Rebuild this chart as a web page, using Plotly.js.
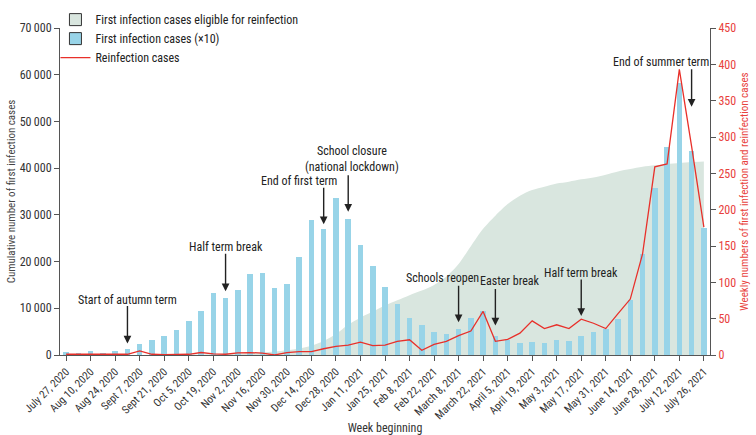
<!DOCTYPE html>
<html>
<head>
<meta charset="utf-8">
<script src="https://cdn.plot.ly/plotly-3.0.1.min.js"></script>
<style>html,body{margin:0;padding:0;background:#fff;}#chart{width:756px;height:435px;}</style>
</head>
<body>
<div id="chart"></div>
<script>
// Week index 0 = July 27, 2020 ... 52 = July 26, 2021
const tickLabels = ["July 27, 2020","Aug 10, 2020","Aug 24, 2020","Sept 7, 2020","Sept 21, 2020","Oct 5, 2020","Oct 19, 2020","Nov 2, 2020","Nov 16, 2020","Nov 30, 2020","Dec 14, 2020","Dec 28, 2020","Jan 11, 2021","Jan 25, 2021","Feb 8, 2021","Feb 22, 2021","March 8, 2021","March 22, 2021","April 5, 2021","April 19, 2021","May 3, 2021","May 17, 2021","May 31, 2021","June 14, 2021","June 28, 2021","July 12, 2021","July 26, 2021"];

// Cumulative first infection cases eligible for reinfection (left axis)
const eligible = [0,0,0,0,0,0,0,0,0,0,50,100,150,200,300,400,550,750,1000,1400,2000,3000,4500,6500,8000,9300,10600,11700,12800,13800,15000,16800,19500,23300,27000,29800,32300,34100,35300,36000,36700,37100,37600,38000,38600,39300,39800,40300,40600,40900,41100,41300,41400];

// First infection cases (x10), in left-axis units
const firstInf = [540,500,870,500,870,1330,2330,3270,4070,5270,7200,9400,13330,12200,14000,17330,17530,14400,15130,21070,28800,27070,33600,29200,23600,19100,14470,11000,7870,6470,4870,4470,5670,8000,9330,4070,3130,2670,2870,2670,3270,3070,4070,5000,5670,7670,11800,21530,35670,44530,58330,43670,27130];

// Weekly reinfection cases (right axis)
const reinf = [1,1,1,0,0,1,5.6,1,0.5,0.5,1,3.4,1.5,1,3,3.4,2.6,0,3.4,4.7,4.7,8.6,12,13.7,17.6,12.9,13.7,18.9,21,6.4,14.6,18.9,26.6,33,60,18.9,21.4,30,47,36.4,41.6,36.4,49.3,43.7,36.4,57,77,139,259,263,393,287,176];

const weekIdx = eligible.map((_, i) => i);
const tickVals = tickLabels.map((_, i) => i * 2);

const green = '#d9e6df', blue = '#98d4e8', red = '#e8302a', axisCol = '#555';
const FONT = 'Liberation Sans Narrow, Roboto Condensed, Arial Narrow, sans-serif';

const traces = [
  {type:'scatter', x: weekIdx, y: eligible, mode:'lines', fill:'tozeroy', fillcolor: green,
   line:{width:0, shape:'spline', smoothing:0.8, color: green}, yaxis:'y', showlegend:false, hoverinfo:'skip'},
  {type:'bar', x: weekIdx, y: firstInf, marker:{color: blue, line:{width:0}}, width:0.45,
   yaxis:'y2', showlegend:false},
  {type:'scatter', x: weekIdx, y: reinf, mode:'lines', line:{color: red, width:1.3},
   yaxis:'y3', name:'Reinfection cases', legendrank:3},
  // legend-only entries
  {type:'bar', x:[null], y:[null], name:'First infection cases eligible for reinfection',
   marker:{color: green, line:{color:'#333', width:1}}, yaxis:'y2', legendrank:1},
  {type:'bar', x:[null], y:[null], name:'First infection cases (×10)',
   marker:{color: blue, line:{color:'#333', width:1}}, yaxis:'y2', legendrank:2}
];

function arrow(x, y, len) {
  return {x: x, y: y, xref:'x', yref:'y', text:'', showarrow:true, ax:0, ay:-len,
          arrowhead:2, arrowsize:1.1, arrowwidth:1.4, arrowcolor:'#222', standoff:0};
}
function label(x, y, txt) {
  return {x: x, y: y, xref:'x', yref:'y', text: txt, showarrow:false,
          xanchor:'center', yanchor:'middle', font:{size:12, color:'#222', family: FONT}};
}

const annotations = [
  label(4.97, 11800, 'Start of autumn term'), arrow(5, 2460, 39),
  label(13.0, 23200, 'Half term break'), arrow(13, 13660, 39),
  label(18.99, 37200, 'End of first term'), arrow(21, 28000, 38),
  label(23.3, 42060, 'School closure<br>(national lockdown)'), arrow(23, 30660, 38),
  label(30.72, 16460, 'Schools reopen'), arrow(32, 7000, 38),
  label(36.23, 15800, 'Easter break'), arrow(35, 6340, 38),
  label(41.97, 17660, 'Half term break'), arrow(42, 8340, 38),
  label(48.47, 62660, 'End of summer term'), arrow(51, 53140, 39)
];

const leftTicks = [0,10000,20000,30000,40000,50000,60000,70000];
const leftTickText = ['0','10\u2009000','20\u2009000','30\u2009000','40\u2009000','50\u2009000','60\u2009000','70\u2009000'];

const layout = {
  width:756, height:435,
  margin:{l:60, r:46, t:5, b:80},
  paper_bgcolor:'#fff', plot_bgcolor:'#fff',
  font:{family: FONT, size:12, color:'#333'},
  showlegend:true,
  legend:{x:-0.007, y:1.07, xanchor:'left', yanchor:'top', bgcolor:'rgba(0,0,0,0)',
          font:{size:12, color:'#222'}, itemwidth:30, traceorder:'normal'},
  bargap:0,
  xaxis:{range:[-0.5,52.5], tickvals: tickVals, ticktext: tickLabels, tickangle:-45,
         showline:true, linecolor:axisCol, linewidth:1, ticks:'outside', ticklen:5, tickcolor:axisCol,
         showgrid:false, zeroline:false, tickfont:{size:11, color:'#333'},
         title:{text:'Week beginning', font:{size:12, color:'#333'}, standoff:4}},
  yaxis:{range:[0,70000], tickvals: leftTicks, ticktext: leftTickText,
         showline:true, linecolor:axisCol, linewidth:1, ticks:'outside', ticklen:5, tickcolor:axisCol,
         showgrid:false, zeroline:false, tickfont:{size:12, color:'#333'},
         title:{text:'Cumulative number of first infection cases', font:{size:11, color:'#444'}}},
  yaxis2:{range:[0,70000], overlaying:'y', visible:false, showgrid:false, zeroline:false},
  yaxis3:{range:[0,450], overlaying:'y', side:'right', dtick:50,
          showline:true, linecolor:axisCol, linewidth:1, ticks:'outside', ticklen:5, tickcolor:axisCol,
          showgrid:false, zeroline:false, tickfont:{size:12, color:'#e8413c'},
          title:{text:'Weekly numbers of first infection and reinfection cases', font:{size:11, color:'#e8413c'}}},
  annotations: annotations
};

Plotly.newPlot('chart', traces, layout, {displayModeBar:false, staticPlot:true});
</script>
</body>
</html>
